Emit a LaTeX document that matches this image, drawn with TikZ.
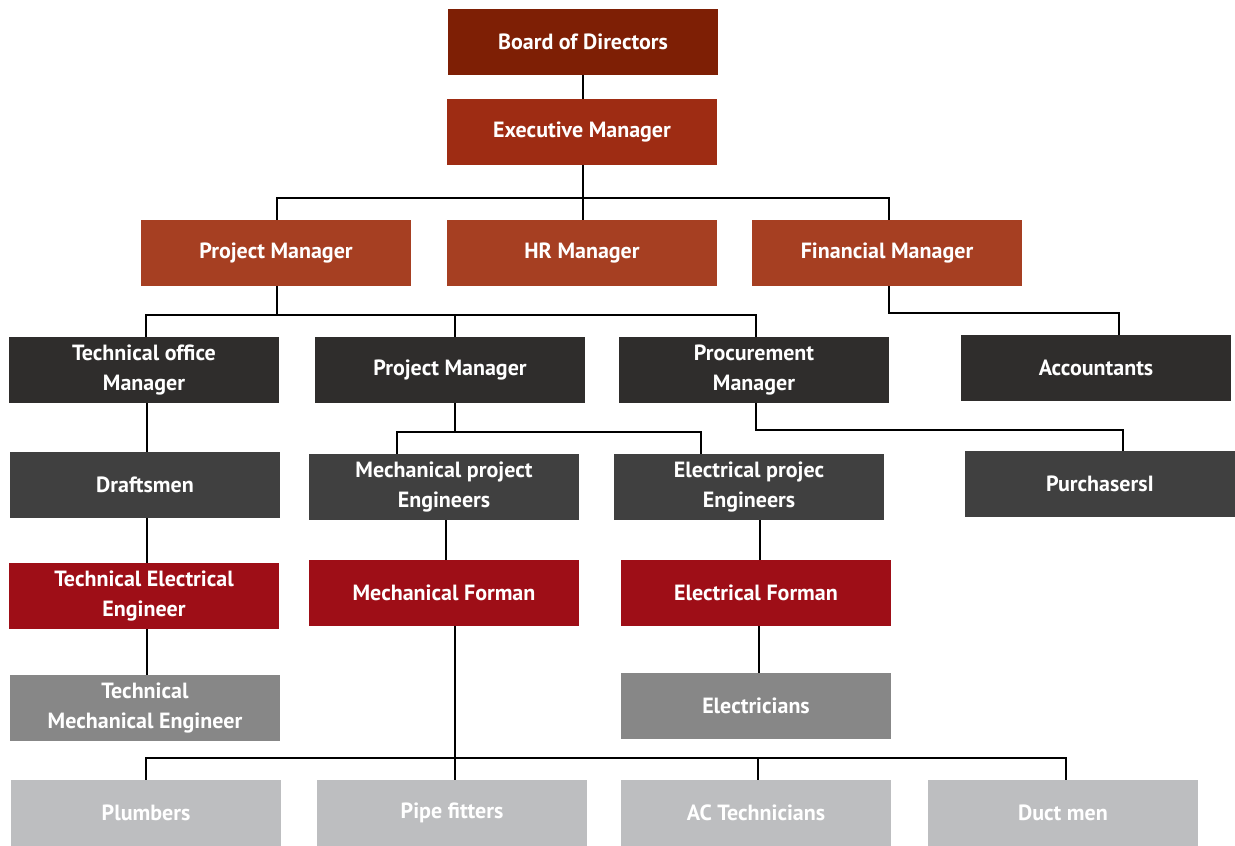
\documentclass[tikz,border=0pt]{standalone}
\usepackage{fontspec}
\setmainfont{PT Sans}
\begin{document}
\begin{tikzpicture}[x=1pt,y=-1pt,
  box/.style={minimum width=270pt,minimum height=66pt,inner sep=0pt,text=white,font=\fontsize{22}{29.5}\selectfont\bfseries,align=center,draw=none},
  cbod/.style={box,fill=c1}, cexe/.style={box,fill=c2}, ctop/.style={box,fill=c3},
  cdk/.style={box,fill=c4}, cmd/.style={box,fill=c5}, cred/.style={box,fill=c6},
  cgr/.style={box,fill=c7}, clt/.style={box,fill=c8},
  conn/.style={line width=2pt,black}]
\definecolor{c1}{HTML}{7E1F05}
\definecolor{c2}{HTML}{9E2C13}
\definecolor{c3}{HTML}{A63F22}
\definecolor{c4}{HTML}{2F2D2C}
\definecolor{c5}{HTML}{404040}
\definecolor{c6}{HTML}{9E0E17}
\definecolor{c7}{HTML}{878787}
\definecolor{c8}{HTML}{BDBEC0}
\useasboundingbox[fill=white] (0,0) rectangle (1235,846);
\node[cbod] (bod) at (583,42) {Board of Directors};
\node[cexe] (exec) at (582,132) {Executive Manager};
\node[ctop] (pm1) at (276,253) {Project Manager};
\node[ctop] (hr) at (582,253) {HR Manager};
\node[ctop] (fin) at (887,253) {Financial Manager};
\node[cdk] (tom) at (144,370) {Technical office\\Manager};
\node[cdk] (pm2) at (450,370) {Project Manager};
\node[cdk] (proc) at (754,370) {Procurement\\Manager};
\node[cdk] (acc) at (1096,368) {Accountants};
\node[cmd] (draft) at (145,485) {Draftsmen};
\node[cmd] (mpe) at (444,487) {Mechanical project\\Engineers};
\node[cmd] (epe) at (749,487) {Electrical projec\\Engineers};
\node[cmd] (purch) at (1100,484) {PurchasersI};
\node[cred] (tee) at (144,596) {Technical Electrical\\Engineer};
\node[cred] (mf) at (444,593) {Mechanical Forman};
\node[cred] (ef) at (756,593) {Electrical Forman};
\node[cgr] (tme) at (145,708) {Technical\\Mechanical Engineer};
\node[cgr] (elec) at (756,706) {Electricians};
\node[clt] (plumb) at (146,813) {Plumbers};
\node[clt] (pipe) at (452,813) {Pipe fitters};
\node[clt] (ac) at (756,813) {AC Technicians};
\node[clt] (duct) at (1063,813) {Duct men};
% connectors
\draw[conn] (bod.south) -- (bod.south |- exec.north);
\draw[conn] ([xshift=1pt]exec.south) -- ++(0,33) coordinate (j1);
\draw[conn] ([xshift=1pt]pm1.north) |- (j1) -| ([xshift=2pt]fin.north);
\draw[conn] (j1) -- (j1 |- hr.north);
\draw[conn] ([xshift=1pt]pm1.south) -- ++(0,29) coordinate (j2);
\draw[conn] ([xshift=2pt]tom.north) |- (j2) -| ([xshift=2pt]proc.north);
\draw[conn] (j2) -| ([xshift=5pt]pm2.north);
\draw[conn] ([xshift=2pt]fin.south) -- ++(0,27) -| ([xshift=23pt]acc.north);
\draw[conn] ([xshift=3pt]tom.south) -- ([xshift=3pt]tom.south |- draft.north);
\draw[conn] ([xshift=2pt]draft.south) -- ([xshift=2pt]draft.south |- tee.north);
\draw[conn] ([xshift=3pt]tee.south) -- ([xshift=3pt]tee.south |- tme.north);
\draw[conn] ([xshift=5pt]pm2.south) -- ++(0,29) coordinate (j3);
\draw[conn] ([xshift=-47pt]mpe.north) |- (j3) -| ([xshift=-48pt]epe.north);
\draw[conn] ([xshift=2pt]proc.south) -- ++(0,27) -| ([xshift=23pt]purch.north);
\draw[conn] ([xshift=2pt]mpe.south) -- ([xshift=2pt]mpe.south |- mf.north);
\draw[conn] ([xshift=11pt]epe.south) -- ([xshift=11pt]epe.south |- ef.north);
\draw[conn] ([xshift=3pt]ef.south) -- ([xshift=3pt]ef.south |- elec.north);
\draw[conn] ([xshift=3pt]pipe.north |- mf.south) -- ([xshift=3pt]pipe.north);
\draw[conn] (plumb.north) -- ++(0,-22) coordinate (j4) -| ([xshift=3pt]duct.north);
\draw[conn] (j4) -| ([xshift=2pt]ac.north);
\end{tikzpicture}
\end{document}
